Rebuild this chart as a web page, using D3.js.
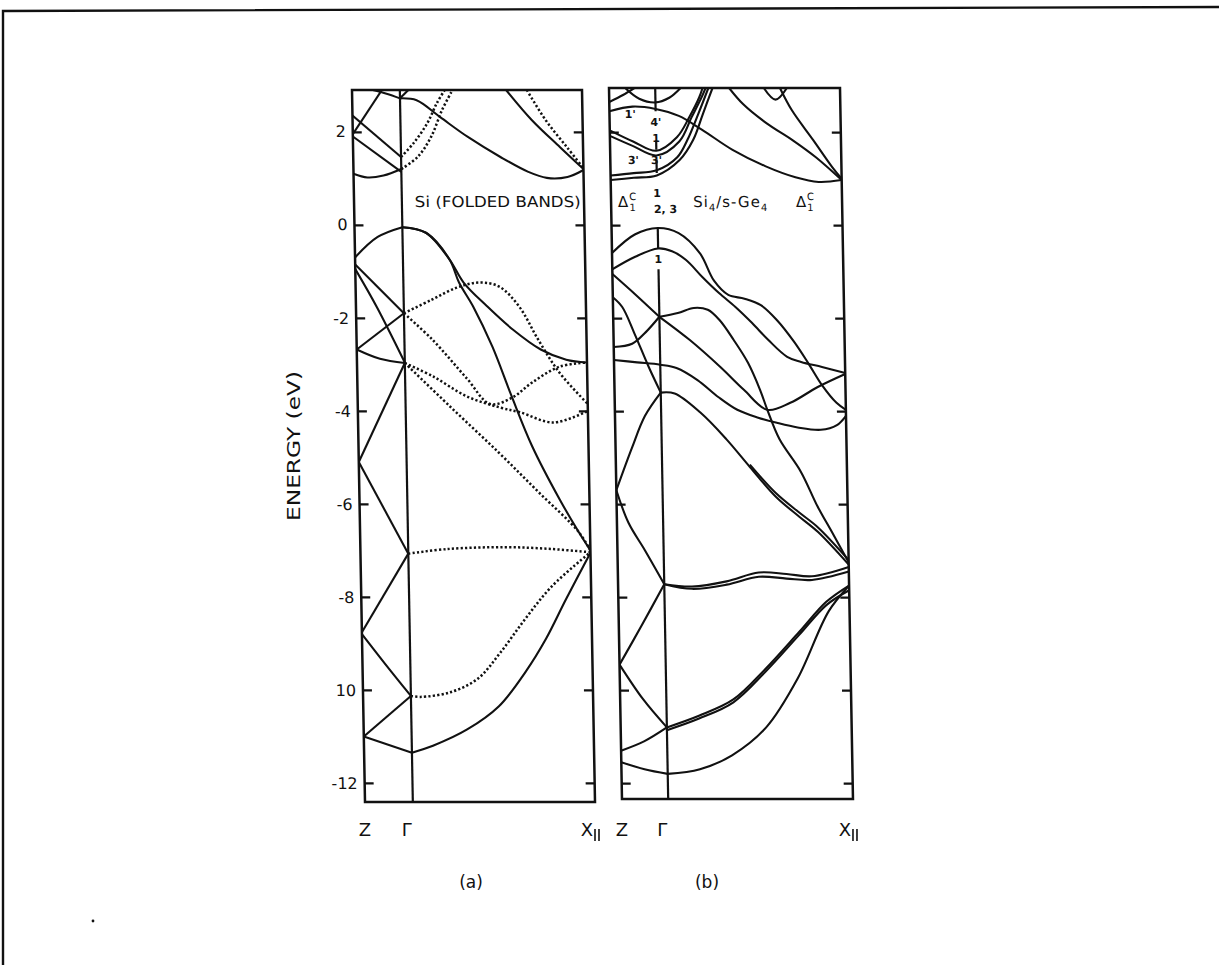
<!DOCTYPE html>
<html>
<head>
<meta charset="utf-8">
<script src="https://cdn.jsdelivr.net/npm/d3@7"></script>
<style>
  body { margin: 0; background: #fff; }
  svg { display: block; background: #fff; }
  text, tspan { font-family: "DejaVu Sans", sans-serif; fill: #111; }
</style>
</head>
<body>
<svg id="fig" width="1219" height="965"></svg>
<script>
// ---- data -------------------------------------------------------------
// energy axis (eV)
const energyTicks = [2, 0, -2, -4, -6, -8, -10, -12];
const energyTickLabels = ["2", "0", "-2", "-4", "-6", "-8", "10", "-12"];

// k-path: Z (0) - Gamma - X|| (1)
const kPathNames = ["Z", "Γ", "X"];

// (a) Si, folded bands : solid curves, [k, E]
const siSolid = [
  [[0, 2.35], [0.208, 1.46]],
  [[0, 1.9], [0.208, 1.14]],
  [[0, 1.95], [0.13, 2.9]],
  [[0.09, 2.9], [0.15, 2.82], [0.208, 2.72]],
  [[0.208, 2.72], [0.245, 2.9]],
  [[0, 1.1], [0.06, 1.02], [0.13, 1.06], [0.208, 1.2]],
  [[0.208, 2.72], [0.28, 2.68], [0.38, 2.32], [0.5, 1.89], [0.64, 1.46], [0.76, 1.14], [0.84, 1.01], [0.93, 1.03], [1, 1.18]],
  [[0.67, 2.9], [0.78, 2.25], [0.9, 1.67], [1, 1.2]],
  [[0, -0.7], [0.1, -0.26], [0.208, -0.05]],
  [[0, -0.85], [0.208, -1.9]],
  [[0, -0.95], [0.09, -1.76], [0.208, -2.96]],
  [[0, -2.68], [0.208, -1.9]],
  [[0, -2.68], [0.1, -2.88], [0.208, -2.97]],
  [[0, -5.1], [0.208, -2.97]],
  [[0, -5.1], [0.208, -7.07]],
  [[0, -8.76], [0.208, -7.07]],
  [[0, -8.8], [0.1, -9.45], [0.208, -10.13]],
  [[0, -11.0], [0.208, -10.13]],
  [[0, -11.0], [0.208, -11.35]],
  [[0.208, -0.05], [0.31, -0.17], [0.41, -0.74], [0.47, -1.24], [0.57, -1.75], [0.68, -2.25], [0.8, -2.68], [0.91, -2.9], [1, -2.96]],
  [[0.208, -0.05], [0.31, -0.17], [0.41, -0.74], [0.45, -1.24], [0.51, -1.76], [0.59, -2.62], [0.67, -3.69], [0.755, -4.76], [0.87, -5.9], [0.95, -6.6], [1, -7.0]],
  [[0.208, -11.35], [0.3, -11.2], [0.45, -10.85], [0.59, -10.35], [0.71, -9.6], [0.8, -8.9], [0.89, -8.05], [1, -7.05]]
];

// (a) Si, folded bands : dotted curves (folded-in states), [k, E]
const siDotted = [
  [[0.208, 1.46], [0.264, 1.76], [0.325, 2.19], [0.368, 2.62], [0.403, 2.9]],
  [[0.208, 1.2], [0.28, 1.46], [0.34, 1.89], [0.39, 2.47], [0.437, 2.9]],
  [[0.76, 2.9], [0.84, 2.25], [0.93, 1.67], [1, 1.22]],
  [[0.208, -1.9], [0.33, -1.61], [0.44, -1.35], [0.54, -1.24], [0.625, -1.33], [0.71, -1.76], [0.79, -2.47], [0.88, -3.18], [1, -3.85]],
  [[0.208, -1.9], [0.33, -2.47], [0.476, -3.3], [0.575, -3.85], [0.67, -3.72], [0.76, -3.39], [0.88, -3.05], [1, -2.96]],
  [[0.208, -2.97], [0.33, -3.26], [0.476, -3.69], [0.62, -3.93], [0.705, -4.03], [0.85, -4.25], [1, -4.0]],
  [[0.208, -2.97], [0.4, -3.9], [0.61, -4.9], [0.78, -5.75], [0.95, -6.6], [1, -7.0]],
  [[0.208, -7.07], [0.38, -6.97], [0.63, -6.93], [0.83, -6.97], [1, -7.04]],
  [[0.208, -10.13], [0.25, -10.15], [0.38, -10.05], [0.5, -9.76], [0.6, -9.2], [0.71, -8.48], [0.83, -7.77], [1, -7.04]]
];

// (b) Si4/s-Ge4 superlattice bands, [k, E]
const slBands = [
  // conduction bands
  [[0, 1.07], [0.1, 1.12], [0.2, 1.18], [0.29, 1.46], [0.335, 1.83], [0.385, 2.4], [0.43, 2.95]],
  [[0, 0.97], [0.1, 1.02], [0.2, 1.07], [0.3, 1.4], [0.36, 1.83], [0.405, 2.4], [0.448, 2.95]],
  [[0, 2.04], [0.1, 1.8], [0.2, 1.6], [0.29, 1.89], [0.345, 2.32], [0.39, 2.75], [0.405, 2.95]],
  [[0, 1.92], [0.1, 1.7], [0.2, 1.5], [0.3, 1.8], [0.355, 2.32], [0.4, 2.75], [0.418, 2.95]],
  [[0, 2.45], [0.1, 2.55], [0.2, 2.5], [0.3, 2.35], [0.4, 2.05], [0.53, 1.62], [0.67, 1.27], [0.8, 1.03], [0.9, 0.93], [1, 0.97]],
  [[0.52, 2.95], [0.58, 2.6], [0.68, 2.19], [0.79, 1.83], [0.89, 1.46], [1, 0.97]],
  [[0.74, 2.95], [0.79, 2.47], [0.88, 1.83], [0.96, 1.25], [1, 1.0]],
  [[0.67, 2.95], [0.72, 2.7], [0.77, 2.95]],
  [[0, 2.65], [0.06, 2.8], [0.11, 2.95]],
  [[0.07, 2.95], [0.13, 2.72], [0.2, 2.64], [0.26, 2.74], [0.31, 2.95]],
  // valence bands
  [[0, -0.6], [0.1, -0.2], [0.2, -0.06], [0.29, -0.17], [0.38, -0.6], [0.44, -1.2], [0.5, -1.5], [0.57, -1.58], [0.64, -1.72], [0.71, -2.05], [0.78, -2.5], [0.84, -2.96], [0.9, -3.45], [0.96, -3.82], [1, -3.97]],
  [[0, -0.95], [0.1, -0.68], [0.2, -0.5], [0.26, -0.56], [0.32, -0.75], [0.39, -1.12], [0.46, -1.46], [0.53, -1.76], [0.6, -2.1], [0.67, -2.47], [0.75, -2.83], [0.81, -2.94], [0.9, -3.05], [1, -3.18]],
  [[0.2, -1.97], [0.28, -1.89], [0.35, -1.78], [0.41, -1.82], [0.46, -2.04], [0.52, -2.47], [0.58, -2.96], [0.63, -3.54], [0.66, -3.97], [0.71, -4.6], [0.8, -5.3], [0.87, -6.05], [0.93, -6.6], [1, -7.25]],
  [[0.2, -1.97], [0.33, -2.47], [0.46, -3.05], [0.56, -3.54], [0.66, -3.97], [0.76, -3.82], [0.88, -3.48], [1, -3.2]],
  [[0, -2.9], [0.1, -2.95], [0.2, -3.0], [0.27, -3.07], [0.36, -3.33], [0.45, -3.7], [0.53, -3.97], [0.62, -4.14], [0.7, -4.25], [0.79, -4.35], [0.89, -4.4], [0.96, -4.3], [1, -4.1]],
  [[0, -2.62], [0.08, -2.55], [0.14, -2.3], [0.2, -1.97]],
  [[0, -1.55], [0.04, -1.76], [0.09, -2.32], [0.15, -3.05], [0.2, -3.6]],
  [[0, -1.05], [0.1, -1.5], [0.2, -1.97]],
  [[0, -5.7], [0.07, -4.8], [0.13, -4.1], [0.2, -3.6]],
  [[0.2, -3.6], [0.26, -3.62], [0.37, -4.03], [0.48, -4.6], [0.58, -5.2], [0.69, -5.84], [0.79, -6.27], [0.87, -6.6], [1, -7.3]],
  [[0.58, -5.15], [0.69, -5.76], [0.79, -6.18], [0.87, -6.5], [1, -7.2]],
  [[0, -5.7], [0.05, -6.4], [0.12, -7.0], [0.2, -7.72]],
  [[0.2, -7.72], [0.32, -7.77], [0.47, -7.66], [0.61, -7.47], [0.73, -7.5], [0.84, -7.55], [1, -7.35]],
  [[0.2, -7.72], [0.32, -7.82], [0.47, -7.73], [0.61, -7.56], [0.73, -7.6], [0.84, -7.63], [1, -7.45]],
  [[0, -9.45], [0.1, -8.6], [0.2, -7.72]],
  [[0, -9.45], [0.1, -10.2], [0.2, -10.8]],
  [[0, -11.3], [0.1, -11.1], [0.2, -10.8]],
  [[0, -11.55], [0.1, -11.7], [0.2, -11.8]],
  [[0.2, -10.8], [0.34, -10.55], [0.49, -10.2], [0.63, -9.55], [0.78, -8.75], [0.9, -8.1], [1, -7.75]],
  [[0.2, -10.86], [0.34, -10.61], [0.49, -10.26], [0.63, -9.61], [0.78, -8.81], [0.9, -8.17], [1, -7.85]],
  [[0.2, -11.8], [0.34, -11.7], [0.48, -11.4], [0.63, -10.8], [0.77, -9.75], [0.91, -8.3], [1, -7.75]]
];

// Gamma line of (b) is broken where the state labels sit: [E from, E to]
const slGammaSegments = [[2.95, 2.45], [1.82, 1.62], [1.42, 1.12], [-0.06, -0.5], [-0.95, -12.34]];

// state labels of (b): [text, k, E]
const slStateLabels = [
  ["1'", 0.09, 2.4], ["4'", 0.2, 2.22], ["1", 0.2, 1.88],
  ["3'", 0.1, 1.4], ["3'", 0.2, 1.4], ["1", 0.2, 0.7], ["1", 0.2, -0.72]
];

// ---- layout -------------------------------------------------------------
const svg = d3.select("#fig");
const ink = "#111";
const slant = 13 / 712;                       // the drawing leans slightly
const slantDeg = Math.atan(slant) * 180 / Math.PI;

function makePanel(cfg) {
  cfg.x = d3.scaleLinear().domain([0, 1]).range([0, cfg.w]);
  cfg.y = d3.scaleLinear().domain([cfg.eTop, cfg.eBottom]).range([0, cfg.h]);
  cfg.absX = (k, E) => cfg.x0 + cfg.x(k) + slant * cfg.y(E);
  cfg.absY = E => cfg.y0 + cfg.y(E);
  cfg.g = svg.append("g")
    .attr("transform", `translate(${cfg.x0},${cfg.y0}) skewX(${slantDeg})`);
  return cfg;
}

const pA = makePanel({ id: "a", x0: 352, y0: 90, w: 230, h: 712, eTop: 2.9, eBottom: -12.41, kG: 0.208 });
const pB = makePanel({ id: "b", x0: 609, y0: 88, w: 231, h: 711, eTop: 2.95, eBottom: -12.34, kG: 0.2 });

function drawFrame(p, labelled) {
  const g = p.g;
  g.append("clipPath").attr("id", "clip-" + p.id)
    .append("rect").attr("width", p.w).attr("height", p.h);
  p.inner = g.append("g").attr("clip-path", `url(#clip-${p.id})`);

  const left = d3.axisLeft(p.y).tickValues(energyTicks)
    .tickSizeInner(-9).tickSizeOuter(0).tickPadding(7)
    .tickFormat((d, i) => labelled ? energyTickLabels[i] : "");
  const right = d3.axisRight(p.y).tickValues(energyTicks)
    .tickSizeInner(-9).tickSizeOuter(0).tickFormat("");
  const ga = g.append("g").call(left);
  const gb = g.append("g").attr("transform", `translate(${p.w},0)`).call(right);
  [ga, gb].forEach(s => {
    s.select(".domain").remove();
    s.selectAll("line").attr("stroke", ink).attr("stroke-width", 2.2);
  });
  ga.selectAll("text").attr("font-size", 16).attr("fill", ink);

  g.append("rect").attr("width", p.w).attr("height", p.h)
    .attr("fill", "none").attr("stroke", ink).attr("stroke-width", 2.5);
}

function drawBands(p, bands, dotted) {
  const line = d3.line()
    .x(d => p.x(d[0])).y(d => p.y(d[1]))
    .curve(d3.curveCatmullRom.alpha(0.5));
  p.inner.selectAll(null).data(bands).join("path")
    .attr("d", line)
    .attr("fill", "none")
    .attr("stroke", ink)
    .attr("stroke-width", dotted ? 2.5 : 2.1)
    .attr("stroke-linejoin", "round")
    .attr("stroke-dasharray", dotted ? "2.2,2.2" : null);
}

// ---- panel (a) --------------------------------------------------------
drawFrame(pA, true);
drawBands(pA, siSolid, false);
drawBands(pA, siDotted, true);
pA.inner.append("line")
  .attr("x1", pA.x(pA.kG)).attr("x2", pA.x(pA.kG))
  .attr("y1", 0).attr("y2", pA.h)
  .attr("stroke", ink).attr("stroke-width", 2.2);
pA.g.append("text")
  .attr("x", pA.x(0.264)).attr("y", pA.y(0.39))
  .attr("font-size", 15).attr("textLength", 166).attr("lengthAdjust", "spacingAndGlyphs")
  .text("Si (FOLDED BANDS)");

// ---- panel (b) --------------------------------------------------------
drawFrame(pB, false);
drawBands(pB, slBands, false);
pB.inner.selectAll(null).data(slGammaSegments).join("line")
  .attr("x1", pB.x(pB.kG)).attr("x2", pB.x(pB.kG))
  .attr("y1", d => pB.y(d[0])).attr("y2", d => pB.y(d[1]))
  .attr("stroke", ink).attr("stroke-width", 2.2);
pB.g.selectAll(null).data(slStateLabels).join("text")
  .attr("x", d => pB.x(d[1])).attr("y", d => pB.y(d[2]) + 4)
  .attr("text-anchor", "middle").attr("font-size", 11).attr("font-weight", "bold")
  .text(d => d[0]);
pB.g.append("text")
  .attr("x", pB.x(0.235)).attr("y", pB.y(0.26))
  .attr("text-anchor", "middle").attr("font-size", 11).attr("font-weight", "bold")
  .text("2, 3");

function deltaLabel(g, x, y) {
  const t = g.append("text").attr("x", x).attr("y", y).attr("font-size", 15);
  t.append("tspan").attr("fill", ink).text("Δ");
  t.append("tspan").attr("fill", ink).attr("font-size", 10).attr("dy", -7).attr("dx", 1).text("C");
  t.append("tspan").attr("fill", ink).attr("font-size", 10).attr("dx", -7).attr("dy", 11).text("1");
}
deltaLabel(pB.g, pB.x(0.03), pB.y(0.39));
deltaLabel(pB.g, pB.x(0.8), pB.y(0.39));

const slTitle = pB.g.append("text")
  .attr("x", pB.x(0.355)).attr("y", pB.y(0.39))
  .attr("font-size", 15).attr("letter-spacing", 1);
slTitle.append("tspan").attr("fill", ink).text("Si");
slTitle.append("tspan").attr("fill", ink).attr("font-size", 10).attr("dy", 4).text("4");
slTitle.append("tspan").attr("fill", ink).attr("dy", -4).text("/s-Ge");
slTitle.append("tspan").attr("fill", ink).attr("font-size", 10).attr("dy", 4).text("4");

// ---- k-point labels under both panels ---------------------------------
[pA, pB].forEach(p => {
  const eb = p.y.domain()[1];
  const kk = [0, p.kG, 1];
  kk.forEach((k, i) => {
    const cx = p.absX(k, eb) + (i === 2 ? -8 : i === 1 ? -6 : 0);
    svg.append("text")
      .attr("x", cx).attr("y", 836)
      .attr("text-anchor", "middle").attr("font-size", 18).attr("fill", ink)
      .text(kPathNames[i]);
    if (i === 2) {
      // the "parallel" subscript after X
      [cx + 8, cx + 12].forEach(sx => {
        svg.append("line")
          .attr("x1", sx).attr("x2", sx).attr("y1", 829).attr("y2", 841)
          .attr("stroke", ink).attr("stroke-width", 1.6);
      });
    }
  });
});

// panel captions
svg.append("text").attr("x", 471).attr("y", 888).attr("text-anchor", "middle")
  .attr("font-size", 17).text("(a)");
svg.append("text").attr("x", 707).attr("y", 888).attr("text-anchor", "middle")
  .attr("font-size", 17).text("(b)");

// energy axis title
svg.append("text")
  .attr("transform", "translate(300,446) rotate(-90)")
  .attr("text-anchor", "middle").attr("font-size", 17)
  .attr("textLength", 150).attr("lengthAdjust", "spacingAndGlyphs")
  .text("ENERGY (eV)");

// outer border of the figure sheet
svg.append("path")
  .attr("d", "M3,965 L3,11 L1219,7")
  .attr("fill", "none").attr("stroke", ink).attr("stroke-width", 2.4);
svg.append("circle").attr("cx", 93).attr("cy", 921).attr("r", 1.4).attr("fill", ink);
</script>
</body>
</html>
